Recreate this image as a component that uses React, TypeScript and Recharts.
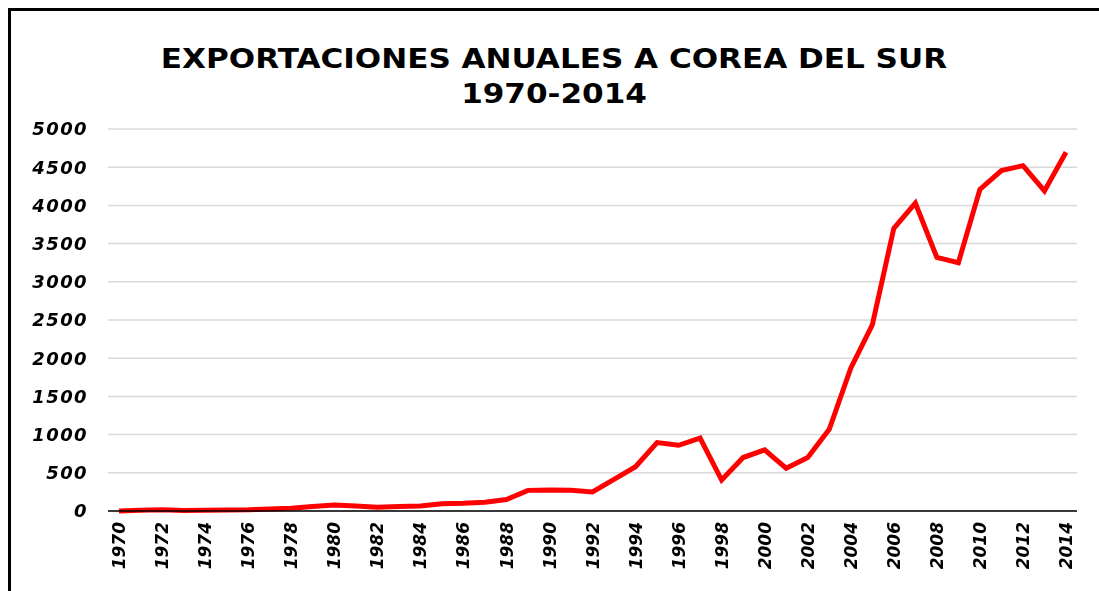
import React from 'react'
import { CartesianGrid, Line, LineChart, XAxis, YAxis } from 'recharts'

const years = [
  1970, 1971, 1972, 1973, 1974, 1975, 1976, 1977, 1978, 1979,
  1980, 1981, 1982, 1983, 1984, 1985, 1986, 1987, 1988, 1989,
  1990, 1991, 1992, 1993, 1994, 1995, 1996, 1997, 1998, 1999,
  2000, 2001, 2002, 2003, 2004, 2005, 2006, 2007, 2008, 2009,
  2010, 2011, 2012, 2013, 2014,
]

const exports = [
  0, 10, 15, 5, 10, 12, 15, 25, 35, 60,
  80, 65, 50, 60, 65, 95, 100, 115, 150, 270,
  275, 270, 250, 415, 580, 895, 860, 955, 405, 700,
  800, 560, 700, 1070, 1870, 2435, 3700, 4030, 3320, 3250,
  4210, 4455, 4520, 4190, 4695,
]

const yTicks = [0, 500, 1000, 1500, 2000, 2500, 3000, 3500, 4000, 4500, 5000]

const titleLines = ['EXPORTACIONES ANUALES A COREA DEL SUR', '1970-2014']

const data = years.map((y, i) => ({ year: String(y), value: exports[i] }))

const font = '"DejaVu Sans", Verdana, sans-serif'

const XTick = ({ x, y, payload }: any) => (
  <g transform={`translate(${x},${y})`}>
    <text
      transform="rotate(-90)"
      textAnchor="end"
      dy="0.36em"
      fontFamily={font}
      fontSize={17}
      fontStyle="italic"
      fontWeight="bold"
      fill="#000"
    >
      {payload.value}
    </text>
  </g>
)

const YTick = ({ x, y, payload }: any) => (
  <text
    x={x}
    y={y}
    textAnchor="end"
    dy="0.36em"
    fontFamily={font}
    fontSize={18}
    fontStyle="italic"
    fontWeight="bold"
    letterSpacing={1.4}
    fill="#000"
  >
    {payload.value}
  </text>
)

export default function App() {
  return (
    <div style={{ position: 'relative', width: 1091, height: 575, overflow: 'hidden' }}>
      {/* frame: only top and left edges are visible in the source */}
      <div style={{ position: 'fixed', left: 8, top: 8, width: 1091, height: 3, background: '#000' }} />
      <div style={{ position: 'fixed', left: 8, top: 8, width: 3, height: 583, background: '#000' }} />
      <div
        style={{
          position: 'absolute',
          left: 96,
          top: 33,
          width: 900,
          textAlign: 'center',
          fontFamily: font,
          fontWeight: 'bold',
          fontSize: 27,
          lineHeight: '35px',
          transform: 'scaleX(1.15)',
          transformOrigin: '450px 0',
        }}
      >
        {titleLines.map((t) => (
          <div key={t}>{t}</div>
        ))}
      </div>
      <div style={{ position: 'absolute', left: 0, top: 0 }}>
        <LineChart
          width={1091}
          height={575}
          data={data}
          margin={{ top: 121, right: 22, left: 0, bottom: 0 }}
        >
          <CartesianGrid vertical={false} stroke="#d9d9d9" strokeWidth={1.5} />
          <XAxis
            dataKey="year"
            interval={1}
            height={72}
            padding={{ left: 11, right: 11 }}
            tickLine={false}
            tick={<XTick />}
            tickSize={0}
            tickMargin={11}
            axisLine={{ stroke: '#000', strokeWidth: 1.5 }}
          />
          <YAxis
            width={100}
            domain={[0, 5000]}
            ticks={yTicks}
            axisLine={false}
            tickLine={false}
            tickSize={0}
            tickMargin={20}
            tick={<YTick />}
          />
          <Line
            type="linear"
            dataKey="value"
            stroke="#ff0000"
            strokeWidth={5}
            dot={false}
            isAnimationActive={false}
          />
        </LineChart>
      </div>
    </div>
  )
}
